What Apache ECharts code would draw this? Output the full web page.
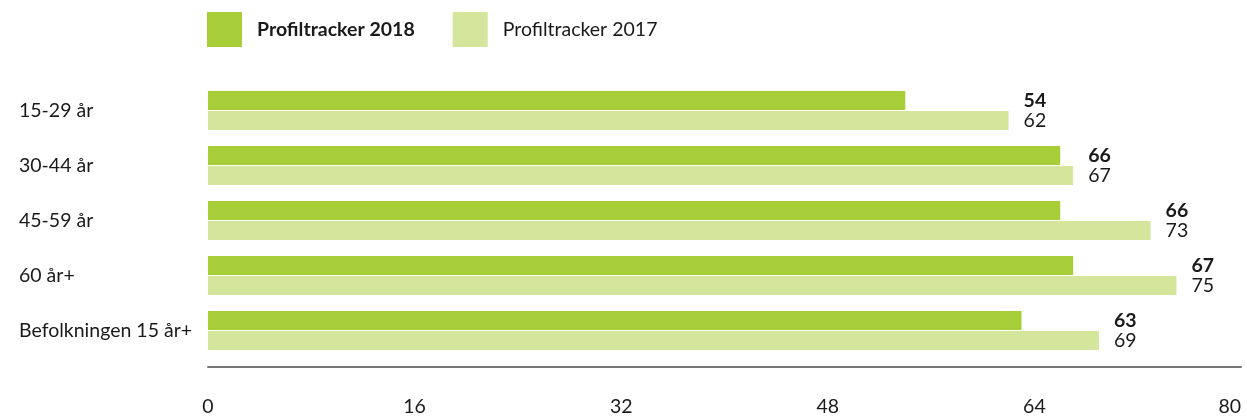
<!DOCTYPE html>
<html>
<head>
<meta charset="utf-8">
<script src="https://cdn.jsdelivr.net/npm/echarts@6/dist/echarts.min.js"></script>
<style>
  html, body { margin: 0; padding: 0; background: #fff; }
  #chart { width: 1247px; height: 417px; }
</style>
</head>
<body>
<div id="chart"></div>
<script>
var categories = ["15-29 år", "30-44 år", "45-59 år", "60 år+", "Befolkningen 15 år+"];
var values2018 = [54, 66, 66, 67, 63];
var values2017 = [62, 67, 73, 75, 69];
var xTicks = [0, 16, 32, 48, 64, 80];

// labels sit to the right of the longer bar in each pair
var labelPos = values2018.map(function (v, i) { return Math.max(v, values2017[i]); });

var font = "Lato";
var fs = 19.5;
var chart = echarts.init(document.getElementById("chart"));

var option = {
  backgroundColor: "#fff",
  textStyle: { fontFamily: font },
  legend: {
    left: 207,
    top: 12,
    padding: 0,
    itemWidth: 35,
    itemHeight: 35,
    itemGap: 38,
    icon: "rect",
    textStyle: { fontFamily: font, fontSize: fs, color: "#1a1a1a", padding: [0, 0, 0, 10] },
    data: [
      { name: "Profiltracker 2018", textStyle: { fontWeight: "bold" } },
      { name: "Profiltracker 2017" }
    ]
  },
  grid: { left: 208, right: 6, top: 83, bottom: 58, containLabel: false },
  xAxis: {
    type: "value",
    min: xTicks[0],
    max: xTicks[xTicks.length - 1],
    interval: 16,
    offset: 9,
    splitLine: { show: false },
    axisTick: { show: false },
    axisLine: { show: true, lineStyle: { color: "#777", width: 2 } },
    axisLabel: {
      margin: 30,
      fontFamily: font,
      fontSize: fs,
      color: "#1a1a1a",
      alignMaxLabel: "right"
    }
  },
  yAxis: [
    {
      type: "category",
      data: categories,
      inverse: true,
      axisLine: { show: false },
      axisTick: { show: false },
      axisLabel: { align: "left", margin: 189, fontFamily: font, fontSize: fs, color: "#1a1a1a" }
    },
    {
      type: "category",
      data: categories,
      inverse: true,
      show: false
    }
  ],
  series: [
    {
      name: "Profiltracker 2018",
      type: "bar",
      yAxisIndex: 0,
      barWidth: 19,
      barGap: "5%",
      itemStyle: { color: "#a7cd38" },
      data: values2018
    },
    {
      name: "Profiltracker 2017",
      type: "bar",
      yAxisIndex: 0,
      barWidth: 19,
      barGap: "5%",
      itemStyle: { color: "#d3e69c" },
      data: values2017
    },
    // invisible bars that only carry the value labels
    {
      name: "lbl2018",
      type: "bar",
      yAxisIndex: 1,
      barWidth: 19,
      barGap: "5%",
      silent: true,
      itemStyle: { color: "rgba(0,0,0,0)" },
      label: {
        show: true,
        position: "right",
        distance: 15,
        fontFamily: font,
        fontSize: fs,
        fontWeight: "bold",
        color: "#1a1a1a",
        formatter: function (p) { return values2018[p.dataIndex]; }
      },
      data: labelPos
    },
    {
      name: "lbl2017",
      type: "bar",
      yAxisIndex: 1,
      barWidth: 19,
      barGap: "5%",
      silent: true,
      itemStyle: { color: "rgba(0,0,0,0)" },
      label: {
        show: true,
        position: "right",
        distance: 15,
        fontFamily: font,
        fontSize: fs,
        color: "#1a1a1a",
        formatter: function (p) { return values2017[p.dataIndex]; }
      },
      data: labelPos
    }
  ]
};

chart.setOption(option);
</script>
</body>
</html>
